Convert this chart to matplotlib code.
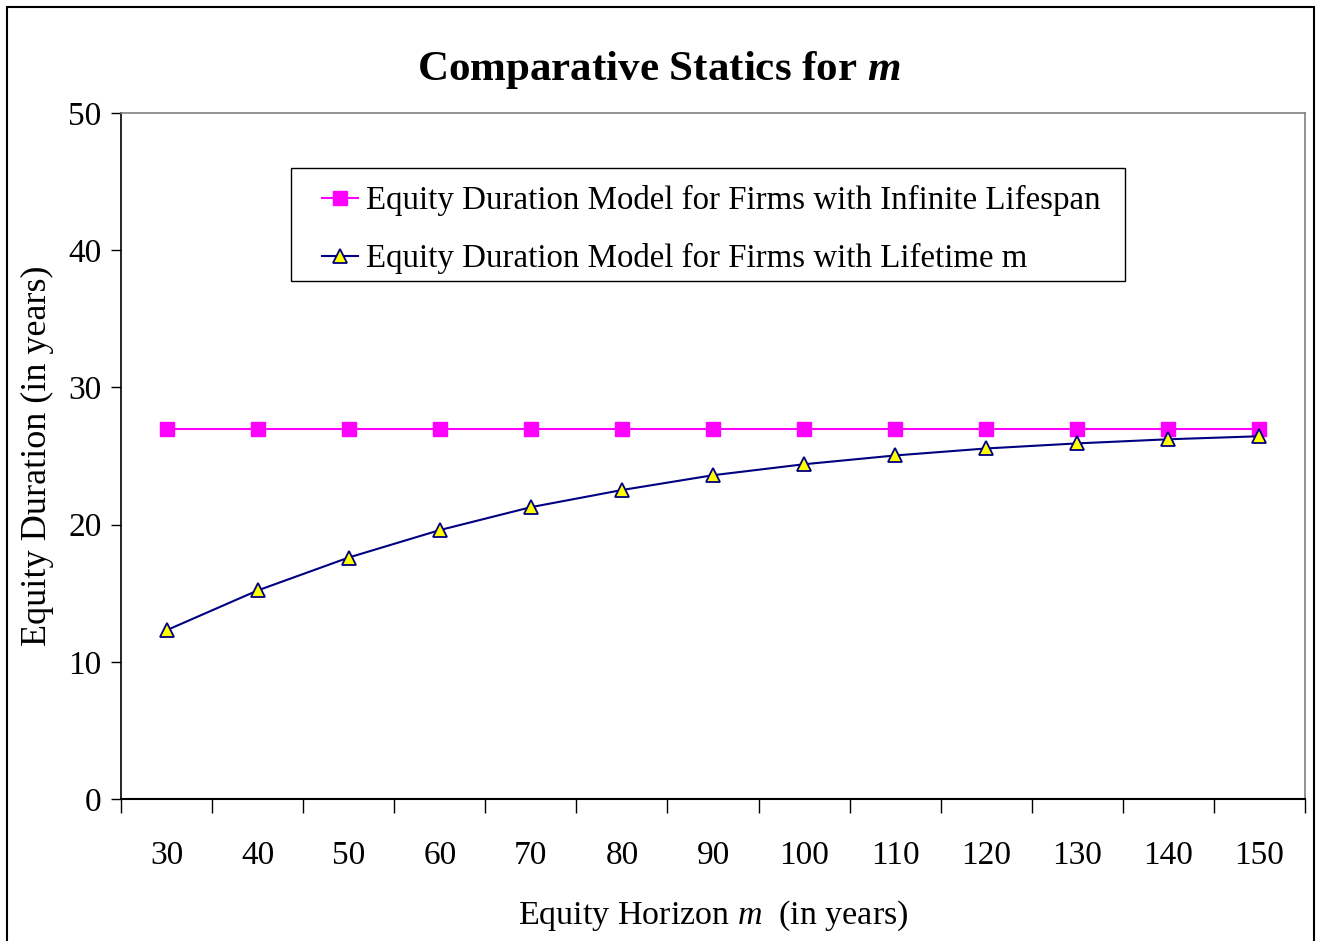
import matplotlib
matplotlib.use("Agg")
import matplotlib.pyplot as plt
from matplotlib.patches import Rectangle

# -----------------------------
# Data
# -----------------------------
horizon = [30, 40, 50, 60, 70, 80, 90, 100, 110, 120, 130, 140, 150]
infinite_life = [27.0, 27.0, 27.0, 27.0, 27.0, 27.0, 27.0, 27.0, 27.0, 27.0, 27.0, 27.0, 27.0]
lifetime_m = [12.3, 15.2, 17.6, 19.6, 21.27, 22.52, 23.6, 24.4, 25.04, 25.55, 25.92, 26.22, 26.44]

label_inf = "Equity Duration Model for Firms with Infinite Lifespan"
label_m = "Equity Duration Model for Firms with Lifetime m"

# -----------------------------
# Style
# -----------------------------
plt.rcParams["font.family"] = ["Liberation Serif", "DejaVu Serif"]
plt.rcParams["mathtext.fontset"] = "custom"
plt.rcParams["mathtext.rm"] = "Liberation Serif"
plt.rcParams["mathtext.it"] = "Liberation Serif:italic"
plt.rcParams["mathtext.bf"] = "Liberation Serif:bold"
plt.rcParams["mathtext.bfit"] = "Liberation Serif:bold:italic"

fig = plt.figure(figsize=(13.21, 9.41), dpi=100)
ax = fig.add_axes([0.0916, 0.1509, 0.8963, 0.729])

x = list(range(len(horizon)))
ax.plot(x, infinite_life, color="#FF00FF", lw=1.5, marker="s", markersize=9.5,
        markerfacecolor="#FF00FF", markeredgecolor="#FF00FF", label=label_inf)
ax.plot(x, lifetime_m, color="#000080", lw=1.5, marker="^", markersize=10,
        markerfacecolor="#FFFF00", markeredgecolor="#000080", markeredgewidth=1.3,
        label=label_m)

ax.set_xlim(-0.5, len(horizon) - 0.5)
ax.set_ylim(0, 50)
ax.set_yticks(range(0, 51, 10))
ax.tick_params(axis="y", direction="out", length=7, width=1, labelsize=24, pad=7)

ax.set_xticks(x)
ax.set_xticklabels([str(h) for h in horizon])
ax.set_xticks([i - 0.5 for i in range(len(horizon) + 1)], minor=True)
ax.tick_params(axis="x", which="major", length=0, labelsize=24, pad=30)
ax.tick_params(axis="x", which="minor", direction="out", length=10, width=1)

for side in ["top", "right"]:
    ax.spines[side].set_color("#808080")
    ax.spines[side].set_linewidth(1.2)
ax.spines["left"].set_linewidth(1.2)
ax.spines["bottom"].set_linewidth(1.5)

fig.text(0.4985, 1 - 80 / 941, r"Comparative Statics for $\mathbfit{m}$",
         fontsize=31, fontweight="bold", ha="center", va="baseline")
ax.set_ylabel("Equity Duration (in years)", fontsize=26, labelpad=10)
ax.set_xlabel(r"Equity Horizon $\mathit{m}$  (in years)", fontsize=24.5, labelpad=20)

leg = ax.legend(loc="upper left", bbox_to_anchor=(0.1698, 0.895),
                borderaxespad=0, fontsize=23.7, frameon=False,
                handlelength=1.1, handletextpad=0.25,
                labelspacing=0.82, borderpad=0)

# legend box drawn separately to match its padding
ax.add_patch(Rectangle((0.1436, 0.755), 0.704, 0.165, transform=ax.transAxes,
                       fill=False, edgecolor="black", linewidth=1.0, zorder=5))

# outer chart border
fig.patches.append(Rectangle((7 / 1321, -0.01), 1307 / 1321, 0.9926 + 0.01,
                             transform=fig.transFigure, fill=False,
                             edgecolor="black", linewidth=1.5))

fig.savefig("out.png", dpi=100)
